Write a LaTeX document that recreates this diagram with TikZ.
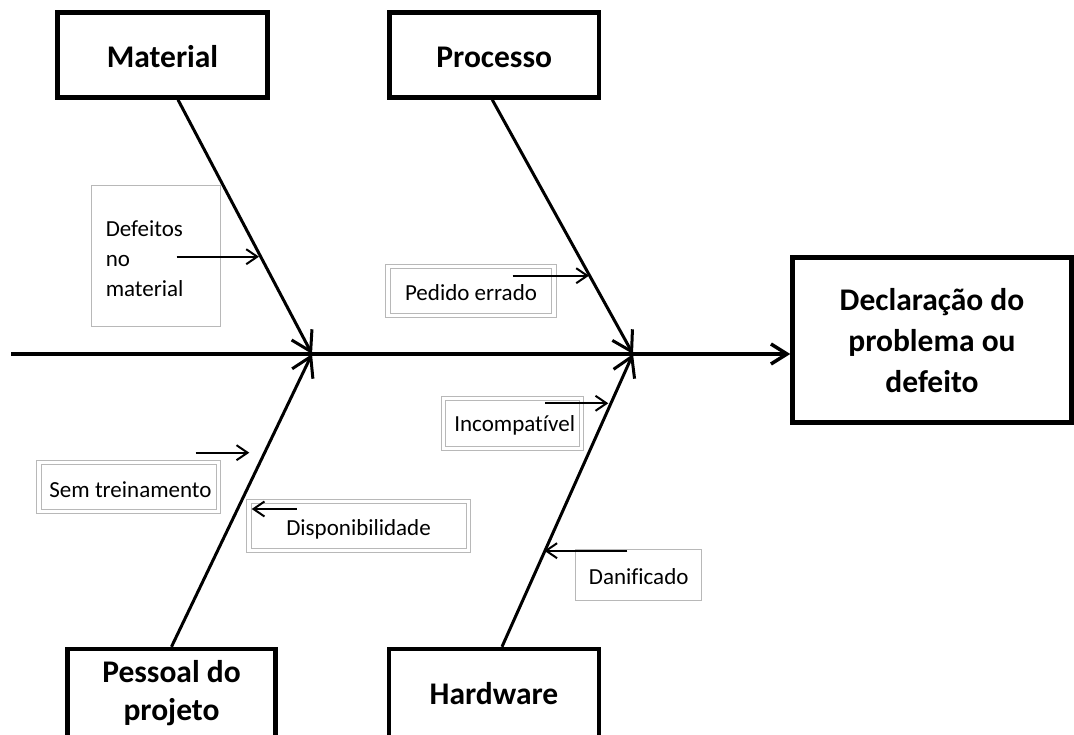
\documentclass[tikz,border=0pt]{standalone}
\usepackage{fontspec}
\setmainfont{Carlito}[Ligatures=NoCommon]
\usetikzlibrary{arrows.meta}
\begin{document}
\begin{tikzpicture}[x=1pt,y=-1pt,
 bigbox/.style={draw, line width=4.5pt, inner sep=0pt},
 bigtext/.style={inner sep=0pt, align=center, font=\fontsize{31.5}{40}\selectfont\bfseries},
 lbl/.style={draw=black!28, line width=1pt, inner sep=0pt},
 lbltext/.style={inner sep=0pt, align=left, font=\fontsize{23}{30}\selectfont},
 dbl/.style={lbl, double=white, double distance=3.4pt},
 bone/.style={line width=3pt, -{Straight Barb[length=19pt,width=23pt]}},
 spine/.style={line width=3.5pt, -{Straight Barb[length=16pt,width=20pt]}},
 twig/.style={line width=2pt, -{Straight Barb[length=11pt,width=15pt]}},
 ]
\useasboundingbox (0,0) rectangle (1074,735);

% main boxes
\node[bigbox, minimum width=210pt, minimum height=85pt] (mat) at (162.5,55) {};
\node[bigbox, minimum width=209.5pt, minimum height=85pt] (proc) at (494.25,55) {};
\node[bigbox, minimum width=208pt, minimum height=88pt] (pess) at (171.5,693) {};
\node[bigbox, minimum width=210pt, minimum height=88pt] (hard) at (494,693) {};
\node[bigbox, minimum width=279pt, minimum height=165pt] (decl) at (932,340) {};
\node[bigtext] (matT) at ([yshift=-2pt]mat.center) {Material};
\node[bigtext] (procT) at ([yshift=-2pt]proc.center) {Processo};
\node[bigtext, font=\fontsize{31.5}{38}\selectfont\bfseries] (pessT) at ([yshift=0pt]pess.center) {Pessoal do\\projeto};
\node[bigtext] (hardT) at ([yshift=-1pt]hard.center) {Hardware};
\node[bigtext, font=\fontsize{31.5}{41}\selectfont\bfseries] (declT) at ([yshift=-1pt]decl.center) {Declaração do\\problema ou\\defeito};

% cause labels
\node[lbl, minimum width=128.3pt, minimum height=140.7pt] (def) at (155.9,256.3) {};
\node[dbl, minimum width=166pt, minimum height=49pt] (ped) at (471,291) {};
\node[dbl, minimum width=179.4pt, minimum height=49pt] (sem) at (128.5,486.7) {};
\node[dbl, minimum width=219.5pt, minimum height=49pt] (disp) at (358.6,526.2) {};
\node[dbl, minimum width=138pt, minimum height=50pt] (inc) at (512.7,423.3) {};
\node[lbl, minimum width=126pt, minimum height=50.7pt] (dan) at (638.7,575.3) {};
\node[lbltext, anchor=west] (defT) at ([xshift=14.3pt,yshift=-2pt]def.west) {Defeitos\\no\\material};
\node[lbltext] (pedT) at ([yshift=-2pt]ped.center) {Pedido errado};
\node[lbltext] (semT) at ([xshift=2pt,yshift=-3pt]sem.center) {Sem treinamento};
\node[lbltext] (dispT) at ([yshift=-3pt]disp.center) {Disponibilidade};
\node[lbltext] (incT) at ([xshift=2pt,yshift=-2pt]inc.center) {Incompatível};
\node[lbltext] (danT) at ([yshift=-1pt]dan.center) {Danificado};

% joints and spine
\coordinate (j1) at (312,354);
\coordinate (j2) at (633,354);
\coordinate (s0) at (11,354);
\draw[spine] (s0) -- (s0 -| decl.west);

% bones
\draw[bone] ([xshift=15.5pt]mat.south) -- (j1);
\draw[bone] ([xshift=-2pt]proc.south) -- (j2);
\draw[bone] ([xshift=0pt]pess.north) -- (j1);
\draw[bone] ([xshift=8pt]hard.north) -- (j2);

% twigs
\coordinate (a1) at (176.7,256.7);   \coordinate (b1) at (259,256.7);
\coordinate (a2) at (512.7,275.7);   \coordinate (b2) at (589,275.7);
\coordinate (a3) at (195.7,452.7);   \coordinate (b3) at (249.3,452.7);
\coordinate (a4) at (296.7,509);     \coordinate (b4) at (251.7,509);
\coordinate (a5) at (545,403.3);     \coordinate (b5) at (608.3,403.3);
\coordinate (a6) at (627.3,550.7);   \coordinate (b6) at (544.3,550.7);
\draw[twig] (a1) -- (b1);
\draw[twig] (a2) -- (b2);
\draw[twig] (a3) -- (b3);
\draw[twig] (a4) -- (b4);
\draw[twig] (a5) -- (b5);
\draw[twig] (a6) -- (b6);
\end{tikzpicture}
\end{document}
